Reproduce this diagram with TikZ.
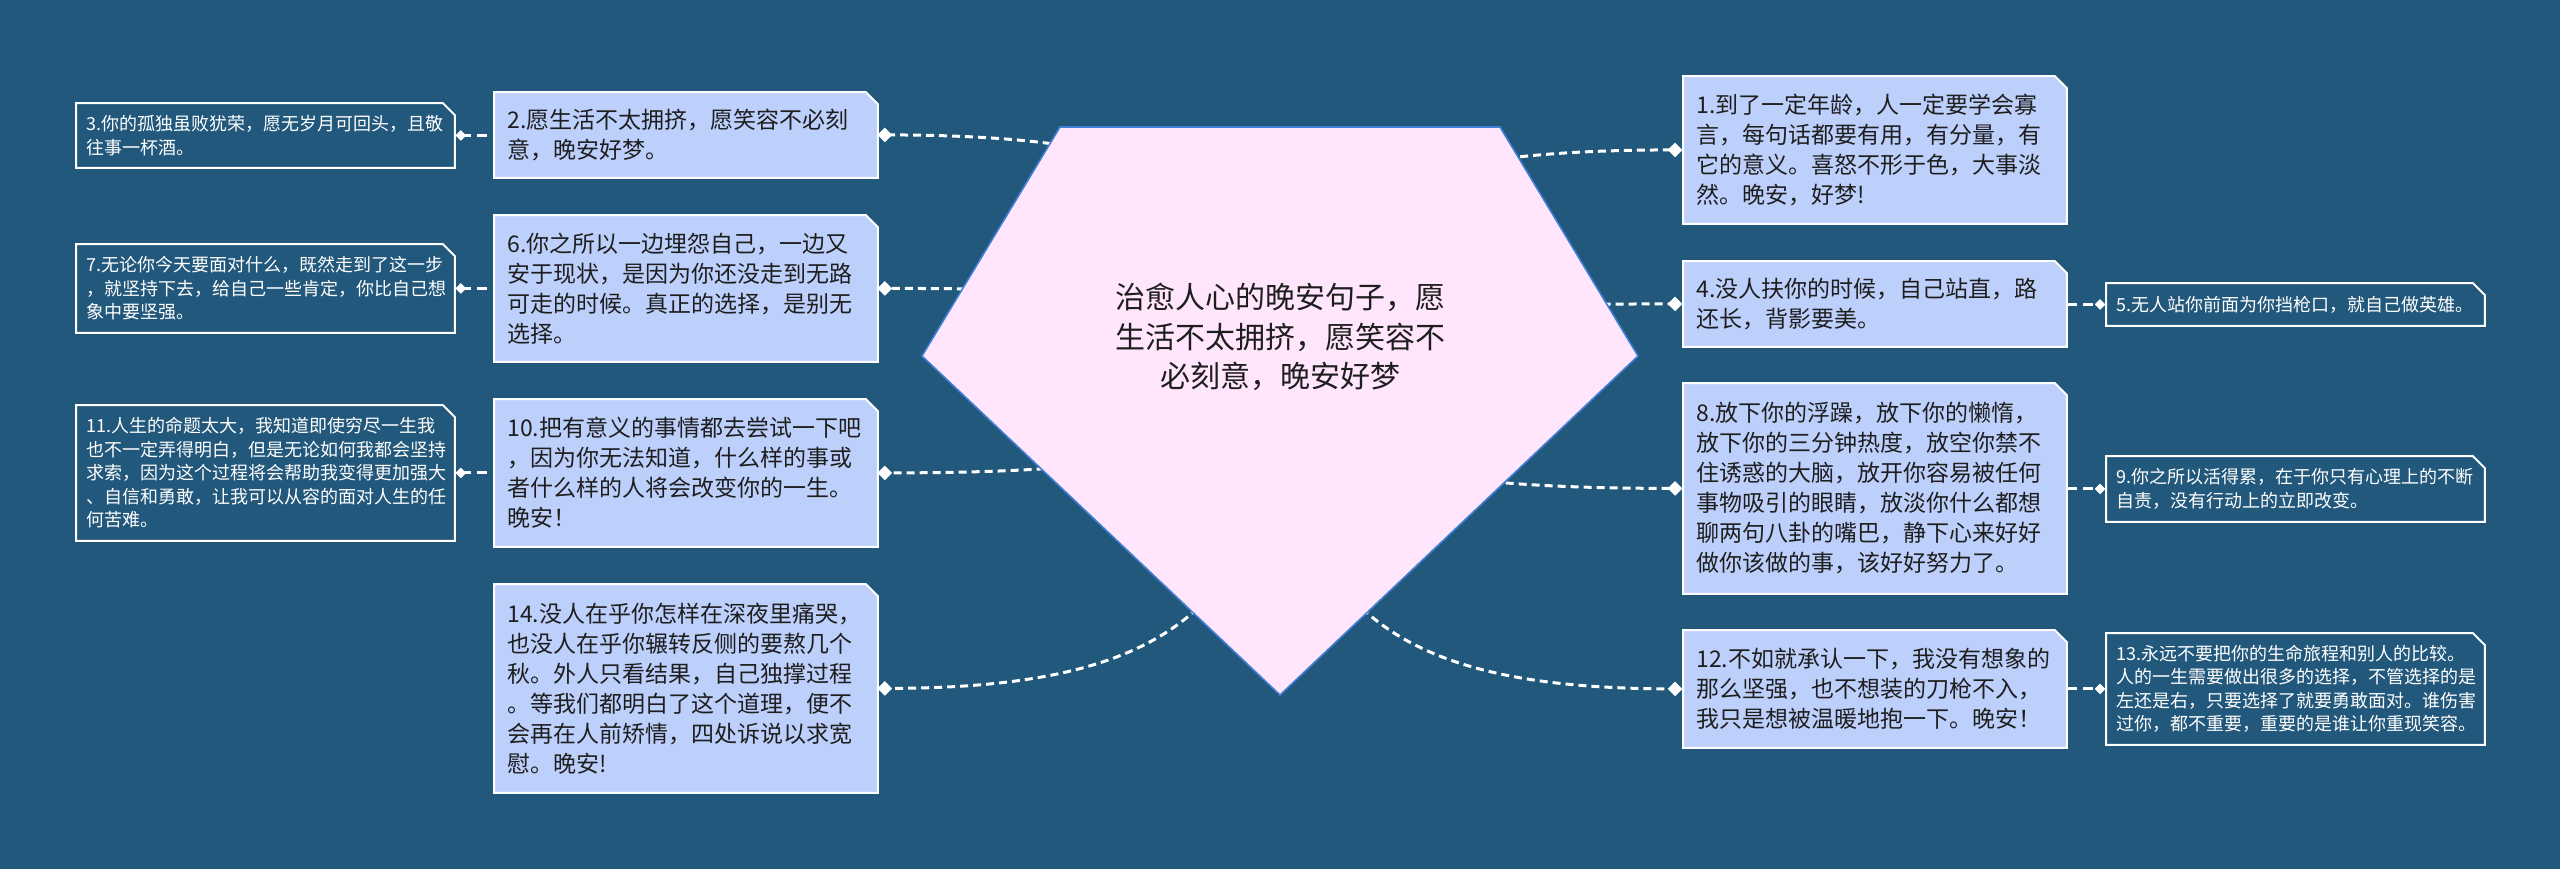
\documentclass[tikz,border=0pt]{standalone}
\usepackage{fontspec}
\newfontfamily\cjk{Noto Sans CJK SC}
\usetikzlibrary{shapes.geometric,calc}
\pgfdeclarelayer{bg}\pgfdeclarelayer{conn}\pgfdeclarelayer{boxes}
\pgfsetlayers{bg,conn,boxes,main}
\definecolor{bgc}{HTML}{22587B}
\definecolor{lboxc}{HTML}{BDD0FC}
\definecolor{pentc}{HTML}{FFE6FD}
\definecolor{pentb}{HTML}{3F7FD6}
\definecolor{txtc}{HTML}{1E1E1E}
\begin{document}
\begin{tikzpicture}[x=0.5pt,y=-0.5pt,
  litbox/.style={rectangle, anchor=north west, inner xsep=6.5pt, inner ysep=0pt, text width=178.5pt, minimum width=191.5pt, align=left, text=txtc, font=\cjk\fontsize{11.5}{15}\selectfont},
  farbox/.style={rectangle, anchor=north west, inner xsep=5pt, inner ysep=0pt, text width=179pt, minimum width=189pt, align=left, text=white, font=\cjk\fontsize{9}{11.75}\selectfont},
  bigdia/.style={diamond, fill=white, draw=none, inner sep=0pt, minimum width=7.5pt, minimum height=7.5pt},
  smalldia/.style={diamond, fill=white, draw=none, inner sep=0pt, minimum width=5.5pt, minimum height=5.5pt},
  conn/.style={draw=white, line width=1.5pt, dash pattern=on 4pt off 2.5pt},
  conn2/.style={draw=white, line width=1.5pt, dash pattern=on 5pt off 3pt},
  outline/.style={draw=white, line width=1pt}
]
\useasboundingbox (0,0) rectangle (2560,869);
\begin{pgfonlayer}{bg}\fill[bgc] (0,0) rectangle (2560,869);\end{pgfonlayer}

% center
\coordinate (cc) at (1280,356);
\node[font=\cjk\fontsize{15}{19.75}\selectfont, align=center, text=txtc] (c) at (1280,337) {治愈人心的晚安句子，愿\\生活不太拥挤，愿笑容不\\必刻意，晚安好梦};

% light boxes left
\node[litbox, minimum height=42.5pt] (b2) at (494,92) {2.愿生活不太拥挤，愿笑容不必刻\\意，晚安好梦。};
\node[litbox, minimum height=73pt] (b6) at (494,215) {6.你之所以一边埋怨自己，一边又\\安于现状，是因为你还没走到无路\\可走的时候。真正的选择，是别无\\选择。};
\node[litbox, minimum height=73.5pt] (b10) at (494,399) {10.把有意义的事情都去尝试一下吧\\，因为你无法知道，什么样的事或\\者什么样的人将会改变你的一生。\\晚安！};
\node[litbox, minimum height=104pt] (b14) at (494,584) {14.没人在乎你怎样在深夜里痛哭，\\也没人在乎你辗转反侧的要熬几个\\秋。外人只看结果，自己独撑过程\\。等我们都明白了这个道理，便不\\会再在人前矫情，四处诉说以求宽\\慰。晚安!};
% light boxes right
\node[litbox, minimum height=73.5pt] (b1) at (1683,76) {1.到了一定年龄，人一定要学会寡\\言，每句话都要有用，有分量，有\\它的意义。喜怒不形于色，大事淡\\然。晚安，好梦!};
\node[litbox, minimum height=42.5pt] (b4) at (1683,261) {4.没人扶你的时候，自己站直，路\\还长，背影要美。};
\node[litbox, minimum height=105pt] (b8) at (1683,383) {8.放下你的浮躁，放下你的懒惰，\\放下你的三分钟热度，放空你禁不\\住诱惑的大脑，放开你容易被任何\\事物吸引的眼睛，放淡你什么都想\\聊两句八卦的嘴巴，静下心来好好\\做你该做的事，该好好努力了。};
\node[litbox, minimum height=58.5pt] (b12) at (1683,630) {12.不如就承认一下，我没有想象的\\那么坚强，也不想装的刀枪不入，\\我只是想被温暖地抱一下。晚安！};

% far boxes left
\node[farbox, minimum height=32pt] (b3) at (76,103) {3.你的孤独虽败犹荣，愿无岁月可回头，且敬\\往事一杯酒。};
\node[farbox, minimum height=44pt] (b7) at (76,244) {7.无论你今天要面对什么，既然走到了这一步\\，就坚持下去，给自己一些肯定，你比自己想\\象中要坚强。};
\node[farbox, minimum height=67.5pt] (b11) at (76,405) {11.人生的命题太大，我知道即使穷尽一生我\\也不一定弄得明白，但是无论如何我都会坚持\\求索，因为这个过程将会帮助我变得更加强大\\、自信和勇敢，让我可以从容的面对人生的任\\何苦难。};
% far boxes right
\node[farbox, minimum height=21pt] (b5) at (2106,283) {5.无人站你前面为你挡枪口，就自己做英雄。};
\node[farbox, minimum height=32.5pt] (b9) at (2106,456) {9.你之所以活得累，在于你只有心理上的不断\\自责，没有行动上的立即改变。};
\node[farbox, minimum height=55.5pt] (b13) at (2106,633) {13.永远不要把你的生命旅程和别人的比较。\\人的一生需要做出很多的选择，不管选择的是\\左还是右，只要选择了就要勇敢面对。谁伤害\\过你，都不重要，重要的是谁让你重现笑容。};

% diamonds
\foreach \b in {2,6,10,14}{\node[bigdia] (d\b) at ([xshift=3.5pt]b\b.east) {};}
\foreach \b in {1,4,8,12}{\node[bigdia] (d\b) at ([xshift=-4pt]b\b.west) {};}
\foreach \b in {3,7,11}{\node[smalldia] (s\b) at ([xshift=3pt]b\b.east) {};}
\foreach \b in {5,9,13}{\node[smalldia] (s\b) at ([xshift=-3pt]b\b.west) {};}

% box outlines and pentagon
\begin{pgfonlayer}{boxes}
\foreach \n/\f in {b1/lboxc,b2/lboxc,b4/lboxc,b6/lboxc,b8/lboxc,b10/lboxc,b12/lboxc,b14/lboxc,b3/bgc,b7/bgc,b11/bgc,b5/bgc,b9/bgc,b13/bgc}{
  \filldraw[outline, fill=\f] (\n.north west) -- ([xshift=-6pt]\n.north east) -- ([yshift=-6pt]\n.north east) -- (\n.south east) -- (\n.south west) -- cycle;
}
\filldraw[fill=pentc, draw=pentb, line width=0.8pt] (1060,127) -- (1500,127) -- (1638,356) -- (1280,695) -- (922,356) -- cycle;
\end{pgfonlayer}

% connectors
\begin{pgfonlayer}{conn}
\foreach \d in {d1,d2,d4,d6,d8,d10,d12,d14}{
  \draw[conn] (cc) .. controls ($(cc)!0.8!(cc |- \d)$) and ($(\d)!0.667!(cc |- \d)$) .. (\d.center);
}
\draw[conn2] (s3.center) -- (s3 -| b2.west);
\draw[conn2] (s7.center) -- (s7 -| b6.west);
\draw[conn2] (s11.center) -- (s11 -| b10.west);
\draw[conn2] (s5 -| b4.east) -- (s5.center);
\draw[conn2] (s9 -| b8.east) -- (s9.center);
\draw[conn2] (s13 -| b12.east) -- (s13.center);
\end{pgfonlayer}
\end{tikzpicture}
\end{document}
